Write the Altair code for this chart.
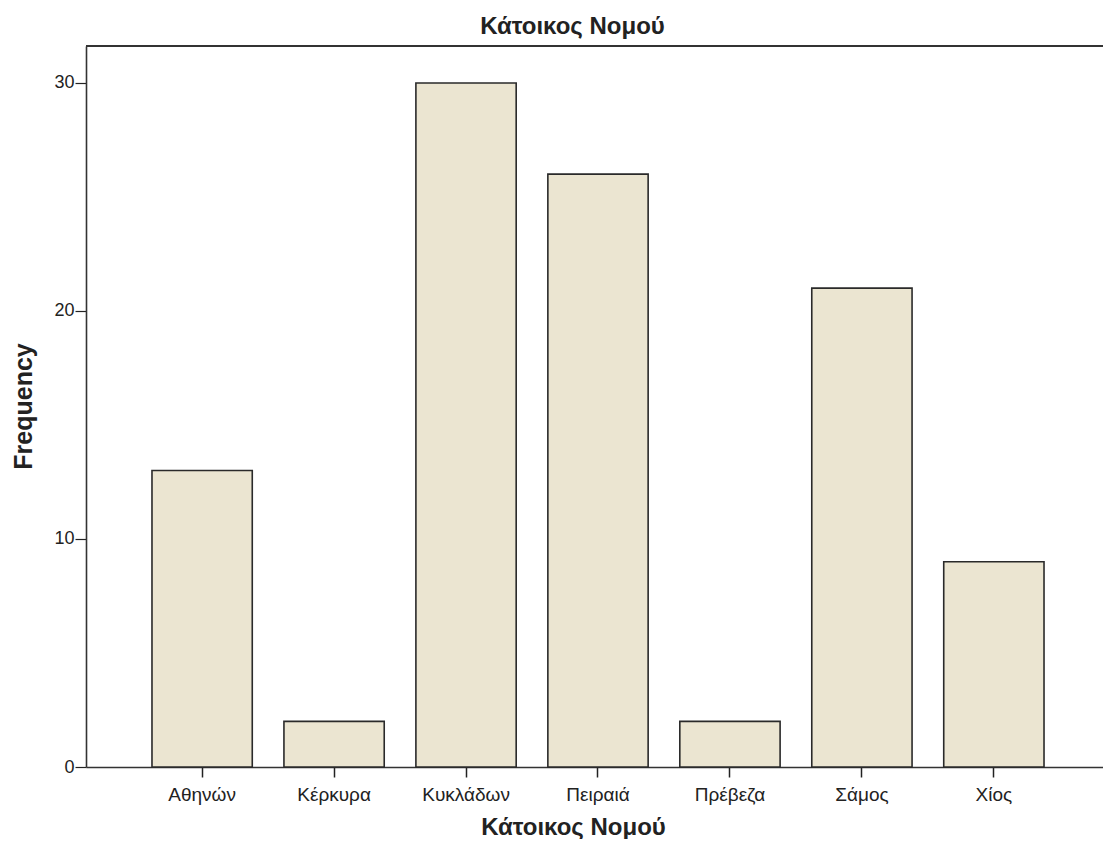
import altair as alt
import pandas as pd

categories = ["Αθηνών", "Κέρκυρα", "Κυκλάδων", "Πειραιά", "Πρέβεζα", "Σάμος", "Χίος"]
frequencies = [13, 2, 30, 26, 2, 21, 9]
y_ticks = [0, 10, 20, 30]
title_text = "Κάτοικος Νομού"
y_title = "Frequency"
y_max = 31.62

df = pd.DataFrame({"category": categories, "freq": frequencies})

FONT = "Liberation Sans"

yscale = alt.Scale(domain=[0, y_max], nice=False, zero=True)

bars = alt.Chart(df).mark_bar(
    fill="#EBE5D1", stroke="#2a2a2a", strokeWidth=1.6
).encode(
    x=alt.X(
        "category:N",
        sort=categories,
        scale=alt.Scale(paddingInner=0.24, paddingOuter=0.4735, align=0.528),
        axis=alt.Axis(
            title=title_text,
            labelAngle=0,
            labelFont=FONT,
            labelFontSize=19,
            labelColor="#222222",
            labelBaseline="alphabetic",
            labelPadding=23,
            tickSize=10,
            tickColor="#222222",
            tickWidth=1.5,
            domainColor="#333333",
            domainWidth=1.6,
            titleFont=FONT,
            titleFontSize=24,
            titleFontWeight="bold",
            titleColor="#222222",
            titleBaseline="alphabetic",
            titleAlign="center",
            titleX=487,
            titleY=67,
        ),
    ),
    y=alt.Y(
        "freq:Q",
        scale=yscale,
        axis=alt.Axis(
            title=y_title,
            values=y_ticks,
            grid=False,
            labelFont=FONT,
            labelFontSize=18,
            labelColor="#222222",
            labelPadding=1,
            tickSize=11,
            tickColor="#222222",
            tickWidth=1.2,
            domainColor="#333333",
            domainWidth=1.6,
            titleFont=FONT,
            titleFontSize=25,
            titleFontWeight="bold",
            titleColor="#222222",
            titleBaseline="alphabetic",
            titleAngle=270,
            titleX=-55,
            titleY=360,
        ),
    ),
)

top_rule = alt.Chart(df).mark_rule(color="#333333", strokeWidth=2).encode(
    y=alt.datum(y_max, scale=yscale)
)

chart = alt.layer(bars, top_rule).properties(
    width=1017,
    height=721,
    title=alt.TitleParams(
        text=title_text,
        font=FONT,
        fontSize=24,
        fontWeight="bold",
        color="#222222",
        anchor="middle",
        frame="group",
        dx=-22,
        dy=24,
        baseline="alphabetic",
        offset=11,
    ),
    autosize=alt.AutoSizeParams(type="none"),
    padding={"left": 78, "top": 38, "right": 0, "bottom": 72},
).configure_view(stroke=None)

chart.save("out.html", embed_options={"renderer": "svg", "actions": False})
